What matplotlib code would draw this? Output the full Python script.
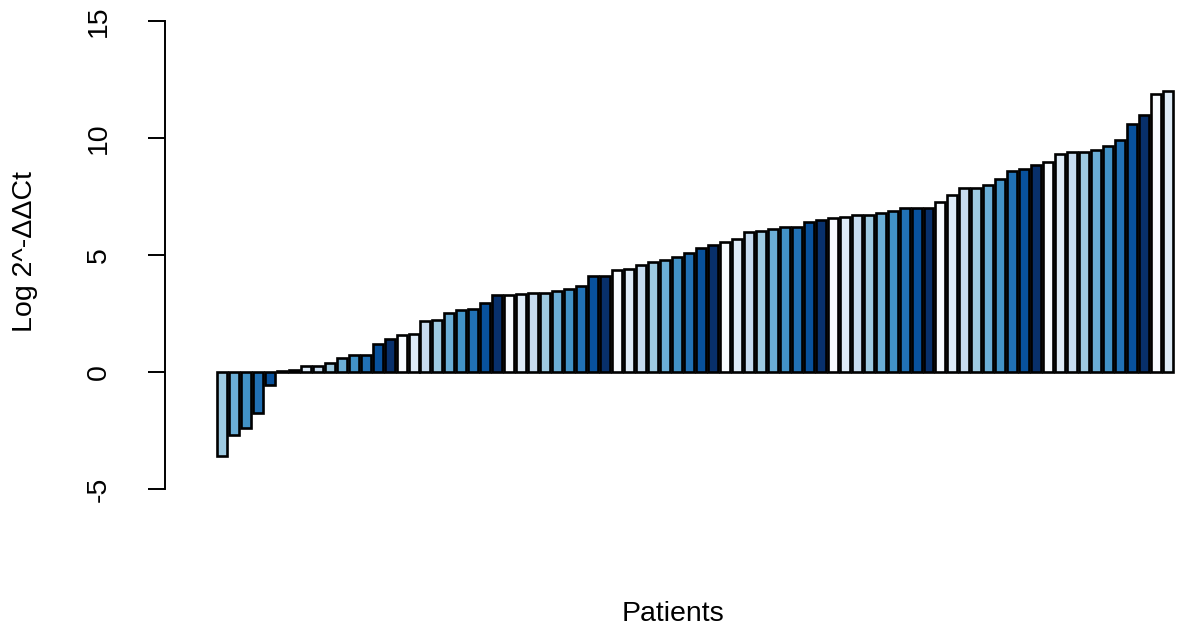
import matplotlib
matplotlib.use("Agg")
import matplotlib.pyplot as plt
import numpy as np

plt.rcParams['font.family'] = ['Liberation Sans', 'DejaVu Sans']
plt.rcParams['axes.unicode_minus'] = False

values = [-3.6, -2.7, -2.4, -1.75, -0.55, 0.05, 0.08, 0.25, 0.25, 0.4,
          0.6, 0.75, 0.75, 1.2, 1.4, 1.6, 1.65, 2.2, 2.25, 2.55,
          2.65, 2.7, 2.95, 3.3, 3.3, 3.35, 3.4, 3.4, 3.45, 3.55,
          3.7, 4.1, 4.1, 4.35, 4.4, 4.6, 4.7, 4.8, 4.9, 5.1,
          5.3, 5.45, 5.55, 5.7, 6.0, 6.05, 6.1, 6.2, 6.2, 6.4,
          6.5, 6.6, 6.65, 6.7, 6.7, 6.8, 6.9, 7.0, 7.0, 7.0,
          7.25, 7.55, 7.85, 7.85, 8.0, 8.25, 8.6, 8.7, 8.85, 9.0,
          9.3, 9.4, 9.4, 9.5, 9.65, 9.9, 10.6, 11.0, 11.9, 12.0]
yticks = [-5, 0, 5, 10, 15]
ylabel = "Log 2^-ΔΔCt"
xlabel = "Patients"

palette = ["#F7FBFF", "#DEEBF7", "#C6DBEF", "#9ECAE1", "#6BAED6",
           "#4292C6", "#2171B5", "#08519C", "#08306B"]
offset = 3
colors = [palette[(i + offset) % len(palette)] for i in range(len(values))]

W, H = 1181, 634
fig = plt.figure(figsize=(W / 100, H / 100), dpi=100)
left_px, right_px = 165, 1181
top_px, bot_px = 2.3, 508
ax = fig.add_axes([left_px / W, (H - bot_px) / H,
                   (right_px - left_px) / W, (bot_px - top_px) / H])

x = 0.7 + 1.2 * np.arange(len(values))
ax.bar(x, values, width=1.0, color=colors, edgecolor="black", linewidth=1.9)

ax.set_xlim(-5.0, 96.8)
ax.set_ylim(-5.8, 15.8)
for s in ["top", "right", "bottom"]:
    ax.spines[s].set_visible(False)
ax.spines["left"].set_bounds(-5, 15)
ax.spines["left"].set_linewidth(1.4)
ax.set_xticks([])
ax.set_yticks(yticks)
ax.set_yticklabels([str(t) for t in yticks], rotation=90, va="center")
ax.tick_params(axis="y", length=12, width=1.4, labelsize=20.5, pad=26)

fig.text(25 / W, 1 - 252 / H, ylabel, rotation=90, ha="center", va="center",
         fontsize=20.5)
fig.text(673 / W, 1 - 621 / H, xlabel, ha="center", va="baseline",
         fontsize=20.5)

fig.savefig("out.png", dpi=100)
